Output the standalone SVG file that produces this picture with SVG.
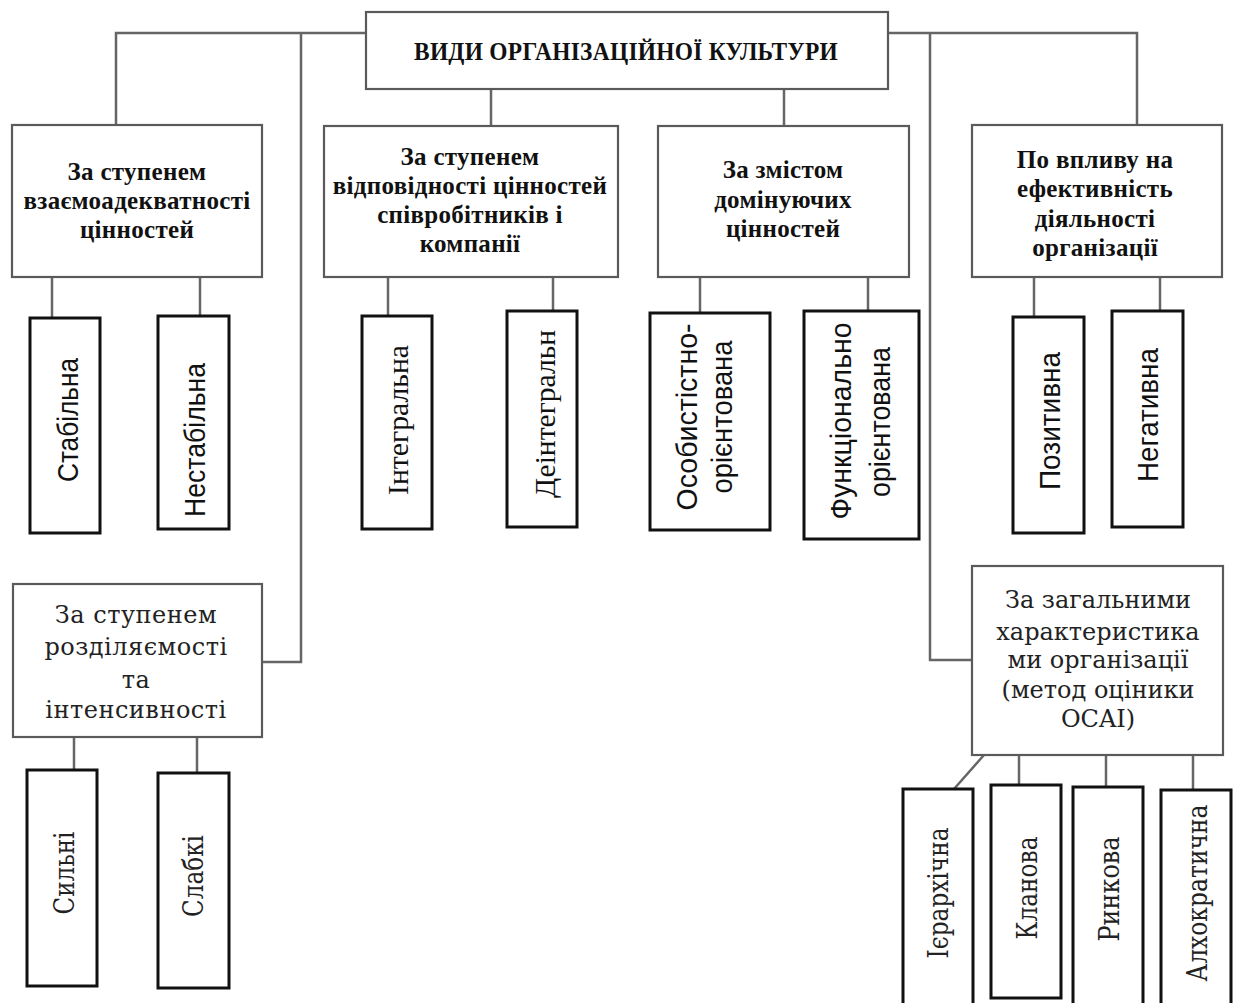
<svg xmlns="http://www.w3.org/2000/svg" width="1234" height="1003" viewBox="0 0 1234 1003">
<style>
  .cat { fill: #fff; stroke: #5a5a5a; stroke-width: 2.2; }
  .leaf { fill: #fff; stroke: #111; stroke-width: 3; }
  .wire { fill: none; stroke: #666; stroke-width: 2.5; }
  .hb { font-family: "Liberation Serif", serif; font-weight: bold; font-size: 25px; fill: #111; text-anchor: middle; letter-spacing: 0.3px; }
  .slab { font-family: "DejaVu Serif", serif; font-size: 24px; fill: #222; text-anchor: middle; }
  .vs { font-family: "Liberation Sans", sans-serif; font-size: 30px; fill: #111; text-anchor: middle; }
  .vr { font-family: "Liberation Serif", serif; font-size: 30px; fill: #111; text-anchor: middle; }
  .vd { font-family: "DejaVu Serif", serif; font-size: 28px; fill: #222; text-anchor: middle; }
</style>

<!-- connectors -->
<g id="connectors" class="wire">
  <polyline points="366,33 116,33 116,125"/>
  <polyline points="301,33 301,662 262,662"/>
  <polyline points="888,33 1137,33 1137,125"/>
  <polyline points="930,33 930,660 972,660"/>
  <line x1="491" y1="89" x2="491" y2="125"/>
  <line x1="784" y1="89" x2="784" y2="126"/>
  <line x1="52" y1="277" x2="52" y2="318"/>
  <line x1="200" y1="277" x2="200" y2="316"/>
  <line x1="388" y1="277" x2="388" y2="316"/>
  <line x1="553" y1="277" x2="553" y2="311"/>
  <line x1="700" y1="277" x2="700" y2="313"/>
  <line x1="868" y1="277" x2="868" y2="311"/>
  <line x1="1034" y1="277" x2="1034" y2="317"/>
  <line x1="1160" y1="277" x2="1160" y2="311"/>
  <line x1="74" y1="737" x2="74" y2="770"/>
  <line x1="197" y1="737" x2="197" y2="773"/>
  <line x1="984" y1="755" x2="954" y2="789"/>
  <line x1="1019" y1="755" x2="1019" y2="785"/>
  <line x1="1106" y1="755" x2="1106" y2="787"/>
  <line x1="1193" y1="755" x2="1193" y2="790"/>
</g>

<!-- root -->
<g id="root">
  <rect class="cat" x="366" y="12" width="522" height="77"/>
  <text class="hb" x="626" y="60" font-size="27" letter-spacing="0" textLength="424" lengthAdjust="spacingAndGlyphs">ВИДИ ОРГАНІЗАЦІЙНОЇ КУЛЬТУРИ</text>
</g>

<!-- first-level categories -->
<g id="cat-adequacy">
  <rect class="cat" x="12" y="125" width="250" height="152"/>
  <text class="hb" x="137" y="180">За ступенем</text>
  <text class="hb" x="137" y="209">взаємоадекватності</text>
  <text class="hb" x="137" y="238">цінностей</text>
</g>
<g id="cat-conformity">
  <rect class="cat" x="324" y="126" width="294" height="151"/>
  <text class="hb" x="470" y="165">За ступенем</text>
  <text class="hb" x="470" y="194">відповідності цінностей</text>
  <text class="hb" x="470" y="223">співробітників і</text>
  <text class="hb" x="470" y="252">компанії</text>
</g>
<g id="cat-content">
  <rect class="cat" x="658" y="126" width="251" height="151"/>
  <text class="hb" x="783" y="178">За змістом</text>
  <text class="hb" x="783" y="208">домінуючих</text>
  <text class="hb" x="783" y="237">цінностей</text>
</g>
<g id="cat-impact">
  <rect class="cat" x="972" y="125" width="250" height="152"/>
  <text class="hb" x="1095" y="168">По впливу на</text>
  <text class="hb" x="1095" y="197">ефективність</text>
  <text class="hb" x="1095" y="227">діяльності</text>
  <text class="hb" x="1095" y="256">організації</text>
</g>
<g id="cat-separability">
  <rect class="cat" x="13" y="584" width="249" height="153"/>
  <text class="slab" x="136" y="623" letter-spacing="0.5">За ступенем</text>
  <text class="slab" x="136" y="655" letter-spacing="0.5">розділяємості</text>
  <text class="slab" x="136" y="688" letter-spacing="0.5">та</text>
  <text class="slab" x="136" y="718" letter-spacing="0.5">інтенсивності</text>
</g>
<g id="cat-ocai">
  <rect class="cat" x="972" y="566" width="251" height="189"/>
  <text class="slab" x="1098" y="608">За загальними</text>
  <text class="slab" x="1098" y="640">характеристика</text>
  <text class="slab" x="1098" y="668">ми організації</text>
  <text class="slab" x="1098" y="698">(метод оціники</text>
  <text class="slab" x="1098" y="727">OCAI)</text>
</g>

<!-- leaf types (labels run bottom-to-top) -->
<g id="leaf-stable">
  <rect class="leaf" x="30" y="318" width="70" height="215"/>
  <text class="vs" transform="translate(78,420) rotate(-90)" textLength="124" lengthAdjust="spacingAndGlyphs">Стабільна</text>
</g>
<g id="leaf-unstable">
  <rect class="leaf" x="158" y="316" width="71" height="213"/>
  <text class="vs" transform="translate(205,440) rotate(-90)" textLength="154" lengthAdjust="spacingAndGlyphs">Нестабільна</text>
</g>
<g id="leaf-integral">
  <rect class="leaf" x="362" y="316" width="70" height="213"/>
  <text class="vr" transform="translate(408,420) rotate(-90)" textLength="150" lengthAdjust="spacingAndGlyphs">Інтегральна</text>
</g>
<g id="leaf-disintegral">
  <rect class="leaf" x="507" y="311" width="70" height="216"/>
  <text class="vr" transform="translate(555,414) rotate(-90)" textLength="168" lengthAdjust="spacingAndGlyphs">Деінтегральн</text>
</g>
<g id="leaf-personal">
  <rect class="leaf" x="650" y="313" width="120" height="217"/>
  <text class="vs" transform="translate(697,417) rotate(-90)" textLength="187" lengthAdjust="spacingAndGlyphs">Особистістно-</text>
  <text class="vs" transform="translate(732,417) rotate(-90)" textLength="153" lengthAdjust="spacingAndGlyphs">орієнтована</text>
</g>
<g id="leaf-functional">
  <rect class="leaf" x="804" y="311" width="115" height="228"/>
  <text class="vs" transform="translate(851,421) rotate(-90)" textLength="197" lengthAdjust="spacingAndGlyphs">Функціонально</text>
  <text class="vs" transform="translate(890,422) rotate(-90)" textLength="150" lengthAdjust="spacingAndGlyphs">орієнтована</text>
</g>
<g id="leaf-positive">
  <rect class="leaf" x="1013" y="317" width="71" height="216"/>
  <text class="vs" transform="translate(1060,421) rotate(-90)" textLength="138" lengthAdjust="spacingAndGlyphs">Позитивна</text>
</g>
<g id="leaf-negative">
  <rect class="leaf" x="1112" y="311" width="71" height="216"/>
  <text class="vs" transform="translate(1158,415) rotate(-90)" textLength="134" lengthAdjust="spacingAndGlyphs">Негативна</text>
</g>
<g id="leaf-strong">
  <rect class="leaf" x="27" y="770" width="70" height="216"/>
  <text class="vd" transform="translate(74,873) rotate(-90)" textLength="83" lengthAdjust="spacingAndGlyphs">Сильні</text>
</g>
<g id="leaf-weak">
  <rect class="leaf" x="158" y="773" width="71" height="215"/>
  <text class="vd" transform="translate(203,876) rotate(-90)" textLength="82" lengthAdjust="spacingAndGlyphs">Слабкі</text>
</g>
<g id="leaf-hierarchy">
  <rect class="leaf" x="903" y="789" width="70" height="222"/>
  <text class="vd" transform="translate(948,893) rotate(-90)" textLength="131" lengthAdjust="spacingAndGlyphs">Ієрархічна</text>
</g>
<g id="leaf-clan">
  <rect class="leaf" x="991" y="785" width="70" height="213"/>
  <text class="vd" transform="translate(1037,888) rotate(-90)" textLength="103" lengthAdjust="spacingAndGlyphs">Кланова</text>
</g>
<g id="leaf-market">
  <rect class="leaf" x="1073" y="787" width="70" height="220"/>
  <text class="vd" transform="translate(1119,889) rotate(-90)" textLength="105" lengthAdjust="spacingAndGlyphs">Ринкова</text>
</g>
<g id="leaf-adhocracy">
  <rect class="leaf" x="1161" y="790" width="70" height="220"/>
  <text class="vd" transform="translate(1207,893) rotate(-90)" textLength="177" lengthAdjust="spacingAndGlyphs">Алхократична</text>
</g>
</svg>
